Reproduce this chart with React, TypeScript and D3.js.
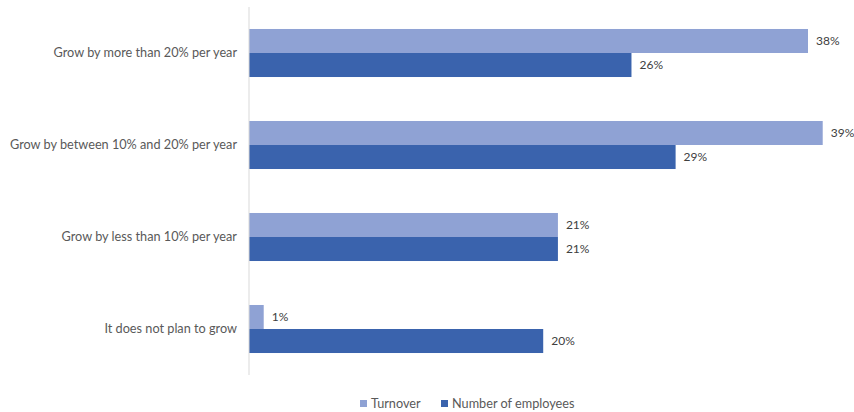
import React from "react";
import * as d3 from "d3";

const categories = [
  "Grow by more than 20% per year",
  "Grow by between 10% and 20% per year",
  "Grow by less than 10% per year",
  "It does not plan to grow",
];
const seriesNames = ["Turnover", "Number of employees"];
const turnover = [38, 39, 21, 1];
const employees = [26, 29, 21, 20];
const colors = ["#8FA2D4", "#3A63AD"];

export default function App() {
  const W = 854, H = 412;
  const x0 = 249;
  const x = d3.scaleLinear().domain([0, 38]).range([x0, 808]);
  const y = d3.scaleBand<string>().domain(categories).range([7, 375]).paddingInner(0.478).paddingOuter(0.239);
  const bw = y.bandwidth() / 2;
  const series = [turnover, employees];
  const font = "Lato, 'Open Sans', sans-serif";
  const fs = 12.7;
  return (
    <svg width={W} height={H} style={{ position: "absolute", left: 0, top: 0 }} fontFamily={font}>
      <rect width={W} height={H} fill="#fff" />
      {categories.map((c, i) => (
        <g key={c}>
          {series.map((s, j) => {
            const yy = (y(c) as number) + j * bw;
            return (
              <g key={j}>
                <rect x={x0} y={yy} width={x(s[i]) - x0} height={bw} fill={colors[j]} />
                <text x={x(s[i]) + 8} y={yy + bw / 2} dy="0.35em" fontSize={12} fill="#404040">
                  {s[i]}%
                </text>
              </g>
            );
          })}
          <text x={237} y={(y(c) as number) + bw} dy="0.35em" textAnchor="end" fontSize={fs} fill="#595959">
            {c}
          </text>
        </g>
      ))}
      <line x1={x0} x2={x0} y1={7} y2={375} stroke="#d9d9d9" strokeWidth={1} />
      {[
        { name: seriesNames[0], x: 360, c: colors[0] },
        { name: seriesNames[1], x: 441, c: colors[1] },
      ].map((l) => (
        <g key={l.name}>
          <rect x={l.x} y={400} width={7} height={7} fill={l.c} />
          <text x={l.x + 11} y={404} dy="0.35em" fontSize={fs} fill="#595959">
            {l.name}
          </text>
        </g>
      ))}
    </svg>
  );
}
